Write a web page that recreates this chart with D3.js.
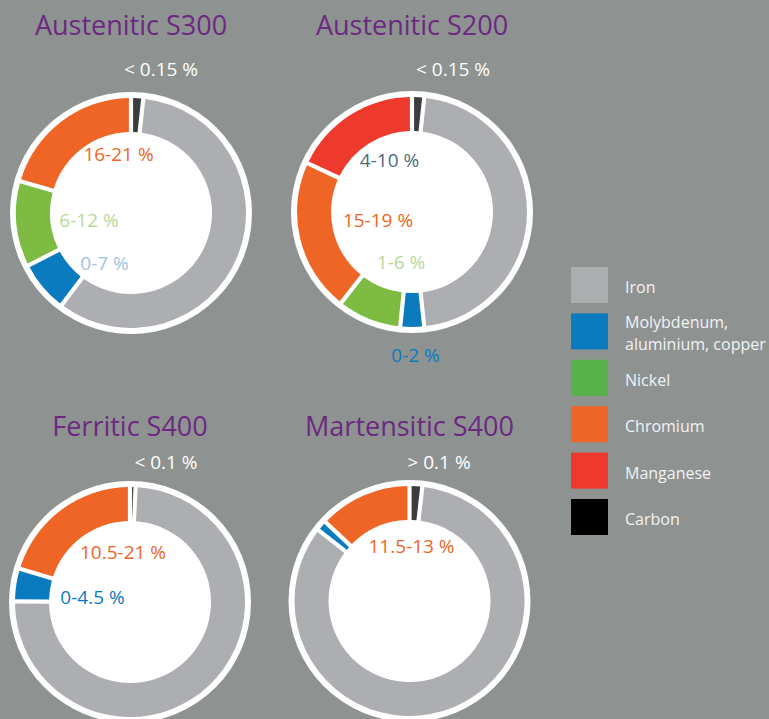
<!DOCTYPE html>
<html>
<head>
<meta charset="utf-8">
<script src="https://cdn.jsdelivr.net/npm/d3@7"></script>
<style>
  html, body { margin: 0; padding: 0; background: #8e9392; }
  svg { display: block; }
  text { font-family: "Open Sans", "Noto Sans", sans-serif; }
</style>
</head>
<body>
<div id="chart"></div>
<script>
/*
 * Stainless steel composition donuts
 */

// components, in drawing order (clockwise from 12 o'clock)
const components = ["Carbon", "Iron", "Molybdenum, aluminium, copper", "Nickel", "Chromium", "Manganese"];
const ringColors = ["#3b3c3e", "#adaeb1", "#0a7bbf", "#7dbb42", "#ee6525", "#ee3a2c"];

// legend is listed top-down in another order
const legendOrder = ["Iron", "Molybdenum, aluminium, copper", "Nickel", "Chromium", "Manganese", "Carbon"];
const legendLines = [["Iron"], ["Molybdenum,", "aluminium, copper"], ["Nickel"], ["Chromium"], ["Manganese"], ["Carbon"]];
const legendColors = ["#aaaeae", "#0a7bbf", "#57b248", "#ee6525", "#ee3a2c", "#000000"];

const grades = ["Austenitic S300", "Austenitic S200", "Ferritic S400", "Martensitic S400"];

// share of the ring, same order as components
const s300Share = [1.1, 59.9, 6.8, 11.7, 20.6, 0];
const s200Share = [1.1, 47.8, 2.8, 8.6, 21.6, 18.1];
const ferriticShare = [0.14, 75.6, 4.05, 0, 20.2, 0];
const martensiticShare = [1.17, 85.3, 0.86, 0, 12.7, 0];

// range labels, same order as components
const s300Labels = ["< 0.15 %", null, "0-7 %", "6-12 %", "16-21 %", null];
const s200Labels = ["< 0.15 %", null, "0-2 %", "1-6 %", "15-19 %", "4-10 %"];
const ferriticLabels = ["< 0.1 %", null, "0-4.5 %", null, "10.5-21 %", null];
const martensiticLabels = ["> 0.1 %", null, null, null, "11.5-13 %", null];

const shares = [s300Share, s200Share, ferriticShare, martensiticShare];
const labels = [s300Labels, s200Labels, ferriticLabels, martensiticLabels];

// label colours per component
const labelColors = ["#ffffff", "#ffffff", "#9cc4e4", "#b8d89a", "#ee6525", "#4f6b80"];

// layout of each panel (centre, title baseline, label offsets from centre)
const panels = [
    {cx: 131, cy: 213, titleY: 35,
        offsets: [[30, -137], null, [-26.5, 57], [-42, 13.7], [-12.5, -52], null]},
    {cx: 412, cy: 212, titleY: 35,
        offsets: [[41, -136], null, [3.5, 149.7], [-11, 57], [-34, 14.7], [-22.5, -45.3]]},
    {cx: 130, cy: 602, titleY: 436,
        offsets: [[36, -132.7], null, [-37.5, 2], null, [-7, -42.7], null]},
    {cx: 409.5, cy: 601, titleY: 436,
        offsets: [[29.5, -131.7], null, null, null, [2, -48.3], null]}
];

const width = 769, height = 719;
const outerWhite = 121, outerR = 115, innerR = 81;

const svg = d3.select("#chart").append("svg")
    .attr("width", width)
    .attr("height", height);

svg.append("rect")
    .attr("width", width)
    .attr("height", height)
    .attr("fill", "#8e9392");

const pie = d3.pie()
    .sort(null)
    .value(d => d.value)
    .padAngle(0.04);

const arc = d3.arc()
    .innerRadius(innerR)
    .outerRadius(outerR)
    .padRadius(105);

// Moly label is the darker blue in S200 and Ferritic
const labelColorFor = (g, i) => (i === 2 && (g === 1 || g === 2)) ? "#0a7bbf" : labelColors[i];

panels.forEach((p, g) => {
    let panel = svg.append("g")
        .attr("transform", `translate(${p.cx},${p.cy})`);

    panel.append("text")
        .attr("x", 0)
        .attr("y", p.titleY - p.cy)
        .attr("text-anchor", "middle")
        .attr("fill", "#6b2a80")
        .attr("font-size", 27)
        .text(grades[g]);

    // white disk behind the ring
    panel.append("circle")
        .attr("r", outerWhite)
        .attr("fill", "#ffffff");

    let slices = components
        .map((c, i) => ({name: c, idx: i, value: shares[g][i]}))
        .filter(d => d.value > 0);

    panel.selectAll(".slice")
        .data(pie(slices))
        .join("path")
        .attr("class", "slice")
        .attr("d", arc)
        .attr("fill", d => ringColors[d.data.idx]);

    labels[g].forEach((t, i) => {
        if (!t) return;
        panel.append("text")
            .attr("x", p.offsets[i][0])
            .attr("y", p.offsets[i][1])
            .attr("text-anchor", "middle")
            .attr("fill", labelColorFor(g, i))
            .attr("font-size", 19)
            .text(t);
    });
});

// Legend
const legend = svg.append("g")
    .attr("transform", "translate(571,267)");

const legendItem = legend.selectAll(".legend-item")
    .data(legendOrder)
    .join("g")
    .attr("class", "legend-item")
    .attr("transform", (d, i) => `translate(0,${i * 46.4})`);

legendItem.append("rect")
    .attr("width", 37)
    .attr("height", 36)
    .attr("fill", (d, i) => legendColors[i]);

legendItem.each(function (d, i) {
    let lines = legendLines[i];
    let t = d3.select(this).append("text")
        .attr("x", 54)
        .attr("y", lines.length > 1 ? 15 : 26)
        .attr("fill", "#f2f2f2")
        .attr("font-size", 16);
    lines.forEach((l, k) => {
        t.append("tspan")
            .attr("x", 54)
            .attr("dy", k === 0 ? 0 : 22)
            .text(l);
    });
});
</script>
</body>
</html>
